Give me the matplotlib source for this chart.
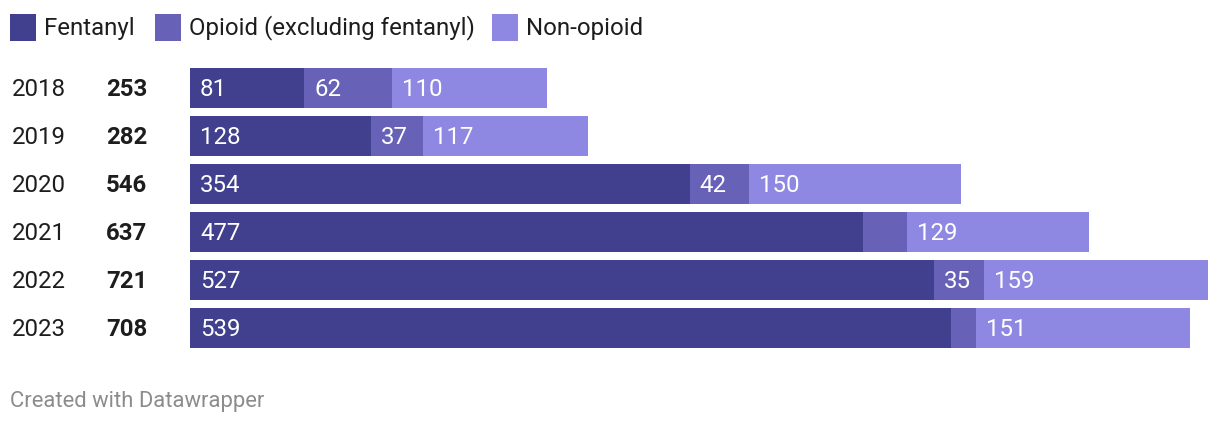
import matplotlib.pyplot as plt
from matplotlib.patches import Rectangle

plt.rcParams['font.family'] = ['Roboto', 'DejaVu Sans']

years = ['2018', '2019', '2020', '2021', '2022', '2023']
fentanyl = [81, 128, 354, 477, 527, 539]
opioid = [62, 37, 42, 31, 35, 18]
non_opioid = [110, 117, 150, 129, 159, 151]
totals = [253, 282, 546, 637, 721, 708]
# which opioid values get a label (too small ones are hidden)
opioid_labeled = [True, True, True, False, True, False]

series_names = ['Fentanyl', 'Opioid (excluding fentanyl)', 'Non-opioid']
colors = ['#40408f', '#6762b8', '#8e88e3']

W, H = 1220, 426
fig = plt.figure(figsize=(W / 100, H / 100), dpi=100)
FS = 17.3


def px(x, y):
    # pixel coords from top-left -> figure fraction
    return x / W, 1 - y / H


# bar axes: x 190..1208 px, rows centered 88..328 px
left, top, right, bottom = 190, 64, 1208, 352
ax = fig.add_axes([left / W, 1 - bottom / H, (right - left) / W, (bottom - top) / H])
ax.set_xlim(0, max(totals))
ax.set_ylim(len(years) - 0.5, -0.5)
ax.axis('off')

ypos = list(range(len(years)))
bh = 40 / 48
starts = [0] * len(years)
for vals, col, name in zip([fentanyl, opioid, non_opioid], colors, series_names):
    ax.barh(ypos, vals, left=starts, height=bh, color=col, linewidth=0)
    starts = [s + v for s, v in zip(starts, vals)]

unit = (right - left) / max(totals)  # px per unit
off = 10 / unit
dy = 1.5 / 48  # nudge text down a bit
for i in ypos:
    ax.text(off, i + dy, str(fentanyl[i]), color='white', fontsize=FS, va='center', ha='left')
    if opioid_labeled[i]:
        ax.text(fentanyl[i] + off, i + dy, str(opioid[i]), color='white', fontsize=FS,
                va='center', ha='left')
    ax.text(fentanyl[i] + opioid[i] + off, i + dy, str(non_opioid[i]), color='white',
            fontsize=FS, va='center', ha='left')

# row labels
for i, (yr, tot) in enumerate(zip(years, totals)):
    yc = 89.5 + 48 * i
    fig.text(*px(12, yc), yr, fontsize=FS, color='#1d1d1d', va='center', ha='left')
    fig.text(*px(106, yc), str(tot), fontsize=FS, fontweight='bold', color='#1d1d1d',
             va='center', ha='left')

# legend
leg_x = [10, 155, 492]
for x0, name, col in zip(leg_x, series_names, colors):
    fx, fy = px(x0, 41)
    fig.patches.append(Rectangle((fx, fy), 26 / W, 27 / H, transform=fig.transFigure,
                                 color=col, linewidth=0))
    fig.text(*px(x0 + 34, 28), name, fontsize=FS, color='#1d1d1d', va='center', ha='left')

fig.text(*px(10, 402), 'Created with Datawrapper', fontsize=15.8, color='#8c8c8c',
         va='center', ha='left')

fig.savefig('out.png', dpi=100)
